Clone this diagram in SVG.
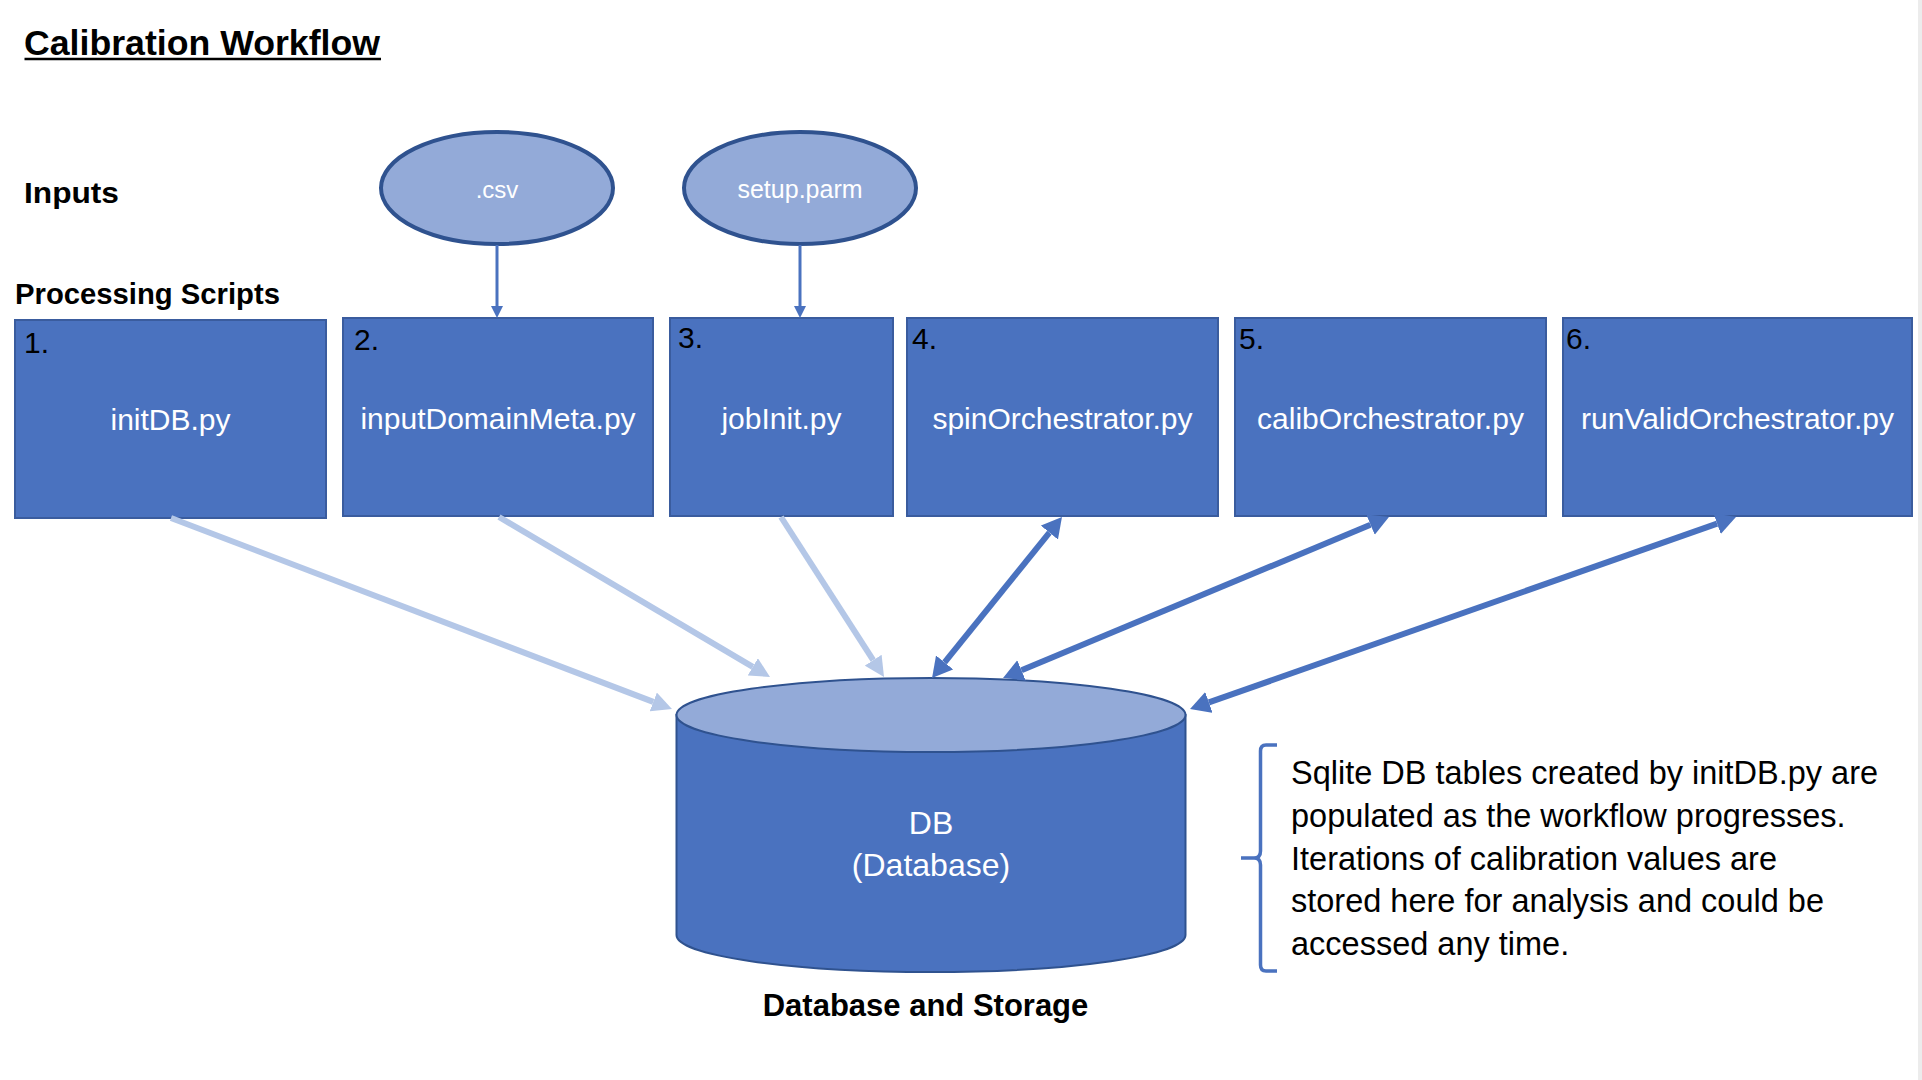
<svg xmlns="http://www.w3.org/2000/svg" width="1922" height="1080" viewBox="0 0 1922 1080">
  <style>
    text { font-family: "Liberation Sans", Arial, sans-serif; }
    .hdr { font-size: 29px; font-weight: bold; fill: #000; }
    .num { font-size: 30px; fill: #000; }
    .lbl { font-size: 30px; fill: #fff; text-anchor: middle; }
    .box { fill: #4A72BF; stroke: #3A5C9E; stroke-width: 2; }
    .inp { fill: #93AAD8; stroke: #2F528F; stroke-width: 4; }
    .note { font-size: 32.5px; fill: #000; }
    .light { stroke: #B4C7E7; stroke-width: 6; fill: none; }
    .dark { stroke: #4A72BF; stroke-width: 6; fill: none; }
    .thin { stroke: #4A72BF; stroke-width: 3; fill: none; }
  </style>
  <defs>
    <marker id="ahLight" viewBox="0 -10 20 20" refX="0" refY="0" markerWidth="20" markerHeight="20" markerUnits="userSpaceOnUse" orient="auto">
      <path d="M0,-10 L20,0 L0,10 z" fill="#B4C7E7"/>
    </marker>
    <marker id="ahDark" viewBox="0 -11 20 22" refX="0" refY="0" markerWidth="20" markerHeight="22" markerUnits="userSpaceOnUse" orient="auto-start-reverse">
      <path d="M0,-11 L20,0 L0,11 z" fill="#4A72BF"/>
    </marker>
    <marker id="ahSmall" viewBox="0 -6 12 12" refX="0" refY="0" markerWidth="12" markerHeight="12" markerUnits="userSpaceOnUse" orient="auto">
      <path d="M0,-6 L12,0 L0,6 z" fill="#4A72BF"/>
    </marker>
  </defs>

  <rect x="0" y="0" width="1922" height="1080" fill="#ffffff"/>
  <rect x="1918" y="0" width="4" height="1080" fill="#ECECEC"/>

  <g id="title">
    <text x="24" y="55" style="font-size:35px;font-weight:bold;" textLength="356" lengthAdjust="spacingAndGlyphs">Calibration Workflow</text>
    <line x1="24.5" y1="59" x2="381" y2="59" stroke="#000" stroke-width="2.5"/>
  </g>
  <text x="24" y="203" class="hdr" style="font-size:30px;" textLength="95" lengthAdjust="spacingAndGlyphs">Inputs</text>
  <text x="15" y="304" class="hdr" textLength="265" lengthAdjust="spacingAndGlyphs">Processing Scripts</text>

  <g id="input-csv">
    <ellipse cx="497" cy="188" rx="116" ry="56" class="inp"/>
    <text x="497" y="198" class="lbl" style="font-size:24px;">.csv</text>
  </g>
  <g id="input-setup">
    <ellipse cx="800" cy="188" rx="116" ry="56" class="inp"/>
    <text x="800" y="198" class="lbl" style="font-size:25px;">setup.parm</text>
  </g>

  <g id="node-initDB">
    <rect x="15" y="320" width="311" height="198" class="box"/>
    <text x="24" y="353" class="num">1.</text>
    <text x="170.5" y="430" class="lbl">initDB.py</text>
  </g>
  <g id="node-inputDomainMeta">
    <rect x="343" y="318" width="310" height="198" class="box"/>
    <text x="354" y="350" class="num">2.</text>
    <text x="498" y="429" class="lbl">inputDomainMeta.py</text>
  </g>
  <g id="node-jobInit">
    <rect x="670" y="318" width="223" height="198" class="box"/>
    <text x="678" y="348" class="num">3.</text>
    <text x="781.5" y="429" class="lbl">jobInit.py</text>
  </g>
  <g id="node-spinOrchestrator">
    <rect x="907" y="318" width="311" height="198" class="box"/>
    <text x="912" y="349" class="num">4.</text>
    <text x="1062.5" y="429" class="lbl">spinOrchestrator.py</text>
  </g>
  <g id="node-calibOrchestrator">
    <rect x="1235" y="318" width="311" height="198" class="box"/>
    <text x="1239" y="349" class="num">5.</text>
    <text x="1390.5" y="429" class="lbl">calibOrchestrator.py</text>
  </g>
  <g id="node-runValidOrchestrator">
    <rect x="1563" y="318" width="349" height="198" class="box"/>
    <text x="1566" y="349" class="num">6.</text>
    <text x="1737.5" y="429" class="lbl">runValidOrchestrator.py</text>
  </g>

  <g id="node-db">
    <path d="M676.5,715 V935 A254.5,37 0 0 0 1185.5,935 V715 Z" fill="#4A72BF" stroke="#2F528F" stroke-width="2"/>
    <ellipse cx="931" cy="715" rx="254.5" ry="37" fill="#93AAD8" stroke="#2F528F" stroke-width="2"/>
    <text x="931" y="834" class="lbl" style="font-size:32px;">DB</text>
    <text x="931" y="876" class="lbl" style="font-size:32px;">(Database)</text>
  </g>
  <text x="925.5" y="1016" class="hdr" style="font-size:31px;" text-anchor="middle">Database and Storage</text>

  <g id="connectors">
    <line x1="497" y1="245" x2="497" y2="306" class="thin" marker-end="url(#ahSmall)"/>
    <line x1="800" y1="245" x2="800" y2="306" class="thin" marker-end="url(#ahSmall)"/>
    <line x1="171" y1="518" x2="653.3" y2="701.9" class="light" marker-end="url(#ahLight)"/>
    <line x1="499" y1="517" x2="752.8" y2="666.8" class="light" marker-end="url(#ahLight)"/>
    <line x1="781" y1="517" x2="873.2" y2="660.2" class="light" marker-end="url(#ahLight)"/>
    <line x1="1049.4" y1="532.6" x2="944.6" y2="662.4" class="dark" marker-start="url(#ahDark)" marker-end="url(#ahDark)"/>
    <line x1="1370.5" y1="524.7" x2="1021.5" y2="670.3" class="dark" marker-start="url(#ahDark)" marker-end="url(#ahDark)"/>
    <line x1="1717.1" y1="523.6" x2="1208.9" y2="702.4" class="dark" marker-start="url(#ahDark)" marker-end="url(#ahDark)"/>
  </g>

  <g id="note">
    <path d="M1277,745 H1266 Q1260.5,745 1260.5,751 V851 Q1260.5,858 1254,858 H1241 M1254,858 Q1260.5,858 1260.5,865 V965 Q1260.5,971 1266,971 H1277" fill="none" stroke="#4A72BF" stroke-width="3.5"/>
    <text x="1291" y="784" class="note">Sqlite DB tables created by initDB.py are</text>
    <text x="1291" y="827" class="note">populated as the workflow progresses.</text>
    <text x="1291" y="870" class="note">Iterations of calibration values are</text>
    <text x="1291" y="912" class="note">stored here for analysis and could be</text>
    <text x="1291" y="955" class="note">accessed any time.</text>
  </g>
</svg>
